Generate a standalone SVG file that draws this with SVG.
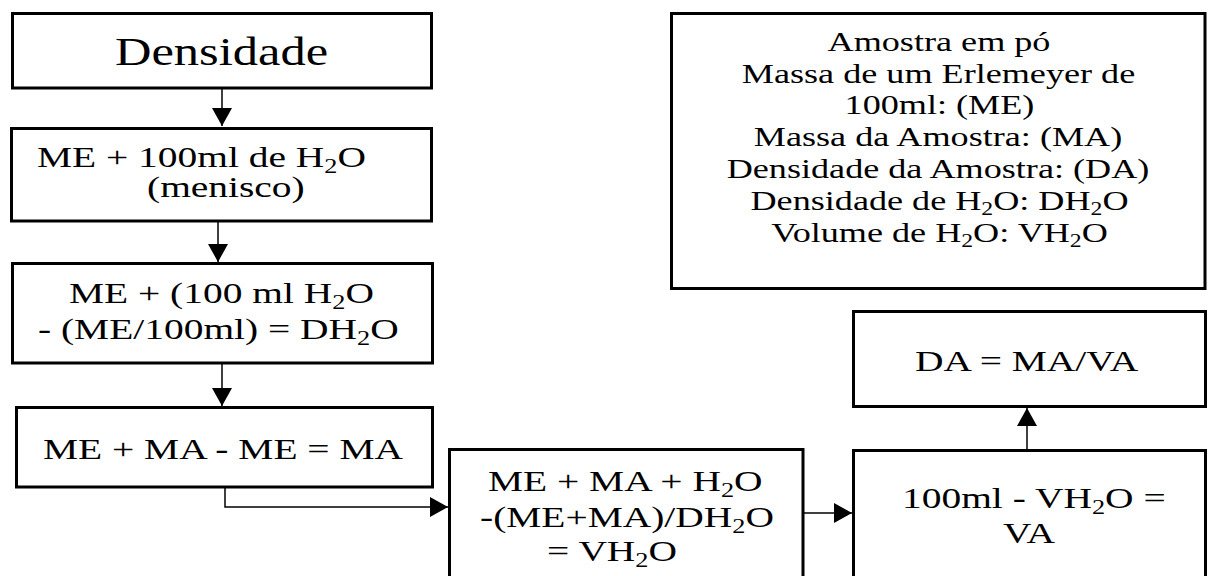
<svg xmlns="http://www.w3.org/2000/svg" width="1208" height="576" viewBox="0 0 1208 576">
<style>
  .box { fill: #ffffff; stroke: #000000; stroke-width: 3; }
  .t { font-family: "Liberation Serif", "Times New Roman", serif; font-size: 30px; fill: #000000; }
  .big { font-size: 39px; }
  .sub { font-size: 20px; }
  .lg { font-size: 27.5px; }
  .lsub { font-size: 18px; }
  .conn { fill: none; stroke: #000000; stroke-width: 1.5; }
</style>
<defs>
  <marker id="arrow" markerUnits="userSpaceOnUse" markerWidth="18" markerHeight="20" viewBox="0 0 18 20" refX="18" refY="10" orient="auto">
    <path d="M0,0 L18,10 L0,20 Z" fill="#000000"/>
  </marker>
</defs>
<rect width="1208" height="576" fill="#ffffff"/>

<g id="connectors">
  <path class="conn" d="M222,88 V126" marker-end="url(#arrow)"/>
  <path class="conn" d="M218,221 V262" marker-end="url(#arrow)"/>
  <path class="conn" d="M222,363 V406" marker-end="url(#arrow)"/>
  <path class="conn" d="M225,487 V507 H448" marker-end="url(#arrow)"/>
  <path class="conn" d="M803,513 H852" marker-end="url(#arrow)"/>
  <path class="conn" d="M1027,449 V408" marker-end="url(#arrow)"/>
</g>

<g id="node-densidade">
  <rect class="box" x="12.5" y="13.5" width="419" height="74.5"/>
  <text class="t big" transform="translate(115,65) scale(1.295,1)">Densidade</text>
</g>

<g id="node-me-h2o">
  <rect class="box" x="11.5" y="128.5" width="420" height="92.5"/>
  <text class="t" transform="translate(37,167) scale(1.315,1)">ME + 100ml de H<tspan class="sub" dy="6">2</tspan><tspan dy="-6">O</tspan></text>
  <text class="t" transform="translate(147,197) scale(1.315,1)">(menisco)</text>
</g>

<g id="node-dh2o">
  <rect class="box" x="12.5" y="263.5" width="420" height="99.5"/>
  <text class="t" transform="translate(69,303) scale(1.315,1)">ME + (100 ml H<tspan class="sub" dy="6">2</tspan><tspan dy="-6">O</tspan></text>
  <text class="t" transform="translate(38,339) scale(1.315,1)">- (ME/100ml) = DH<tspan class="sub" dy="6">2</tspan><tspan dy="-6">O</tspan></text>
</g>

<g id="node-ma">
  <rect class="box" x="16.5" y="407.5" width="416" height="79.5"/>
  <text class="t" transform="translate(43,459) scale(1.315,1)">ME + MA - ME = MA</text>
</g>

<g id="node-vh2o">
  <rect class="box" x="449.5" y="449.5" width="353.5" height="140"/>
  <text class="t" transform="translate(488,491) scale(1.315,1)">ME + MA + H<tspan class="sub" dy="6">2</tspan><tspan dy="-6">O</tspan></text>
  <text class="t" transform="translate(480,527) scale(1.315,1)">-(ME+MA)/DH<tspan class="sub" dy="6">2</tspan><tspan dy="-6">O</tspan></text>
  <text class="t" transform="translate(547,561) scale(1.315,1)">= VH<tspan class="sub" dy="6">2</tspan><tspan dy="-6">O</tspan></text>
</g>

<g id="node-va">
  <rect class="box" x="853.5" y="450.5" width="352" height="140"/>
  <text class="t" transform="translate(902,508) scale(1.315,1)">100ml - VH<tspan class="sub" dy="6">2</tspan><tspan dy="-6">O =</tspan></text>
  <text class="t" transform="translate(1003,543) scale(1.315,1)">VA</text>
</g>

<g id="node-da">
  <rect class="box" x="853.5" y="311.5" width="352" height="95"/>
  <text class="t" transform="translate(915,371) scale(1.315,1)">DA = MA/VA</text>
</g>

<g id="node-legend">
  <rect class="box" x="671.5" y="13.5" width="533.5" height="275"/>
  <text class="t lg" text-anchor="middle" transform="translate(939,51) scale(1.315,1)">Amostra em pó</text>
  <text class="t lg" text-anchor="middle" transform="translate(938.5,83) scale(1.315,1)">Massa de um Erlemeyer de</text>
  <text class="t lg" text-anchor="middle" transform="translate(939.5,114) scale(1.315,1)">100ml: (ME)</text>
  <text class="t lg" text-anchor="middle" transform="translate(938,146) scale(1.315,1)">Massa da Amostra: (MA)</text>
  <text class="t lg" text-anchor="middle" transform="translate(938,178) scale(1.315,1)">Densidade da Amostra: (DA)</text>
  <text class="t lg" text-anchor="middle" transform="translate(939.5,210) scale(1.315,1)">Densidade de H<tspan class="lsub" dy="5">2</tspan><tspan dy="-5">O: DH</tspan><tspan class="lsub" dy="5">2</tspan><tspan dy="-5">O</tspan></text>
  <text class="t lg" text-anchor="middle" transform="translate(939.5,242) scale(1.315,1)">Volume de H<tspan class="lsub" dy="5">2</tspan><tspan dy="-5">O: VH</tspan><tspan class="lsub" dy="5">2</tspan><tspan dy="-5">O</tspan></text>
</g>
</svg>
